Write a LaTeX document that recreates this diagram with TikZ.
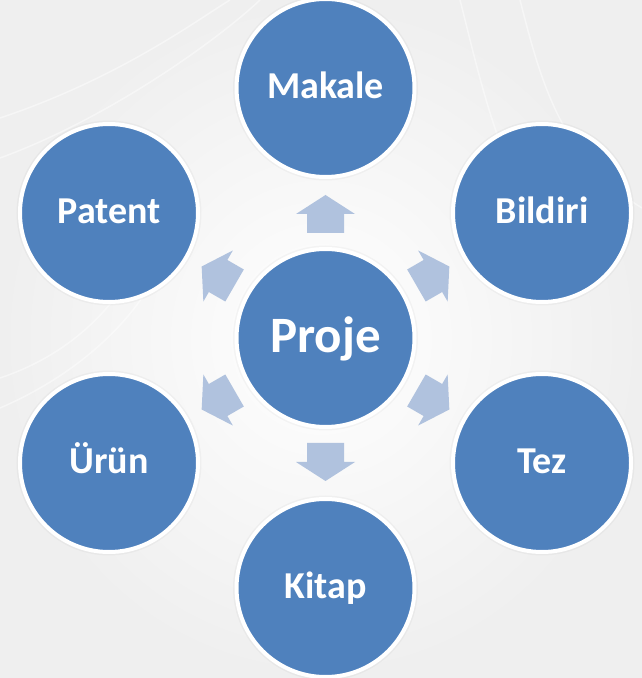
\documentclass[tikz,border=0pt]{standalone}
\usepackage{fontspec}
\setmainfont{Carlito}
\usetikzlibrary{calc}
\definecolor{circblue}{RGB}{79,129,189}
\definecolor{arrblue}{RGB}{176,194,222}
\definecolor{bgedge}{RGB}{239,239,239}
\begin{document}
\begin{tikzpicture}[x=1pt,y=1pt,
  bubble/.style={circle, minimum size=178pt, inner sep=0pt, fill=circblue,
    draw=white, line width=4pt, text=white,
    font=\bfseries\fontsize{38}{38}\selectfont, text height=21pt, text depth=0pt},
  hub/.style={bubble, font=\bfseries\fontsize{51}{51}\selectfont, text height=29.4pt},
  blockarrow/.style={fill=arrblue, draw=none},
  halo/.style={fill=black, opacity=0.03}]
\useasboundingbox (0,0) rectangle (642,678);
\shade[inner color=white, outer color=bgedge] (0,0) rectangle (642,678);
% faint white swooshes
\begin{scope}[white, line width=1.5pt, opacity=0.45]
  \draw (0,560) .. controls (120,600) and (200,660) .. (230,678);
  \draw (0,520) .. controls (110,560) and (220,640) .. (260,678);
  \draw (460,678) .. controls (480,600) and (500,500) .. (560,420);
  \draw (520,678) .. controls (540,600) and (560,520) .. (642,470);
  \draw (0,300) .. controls (60,320) and (110,360) .. (140,420);
  \draw (0,270) .. controls (70,300) and (130,350) .. (160,410);
\end{scope}
\coordinate (C) at (325.5,340);
\fill[halo] (C) circle (92.5);
\foreach \a in {90,30,-30,-90,210,150} {
  \fill[halo] ($(C)+(\a:250)$) circle (92.5);
}
\node[hub] (P) at (C) {Proje};
\foreach \n/\a/\t in {M/90/Makale, B/30/Bildiri, T/-30/Tez, K/-90/Kitap, U/210/Ürün, A/150/Patent} {
  \node[bubble] (\n) at ($(P)+(\a:250)$) {\t};
  \begin{scope}[shift={(P.center)}, rotate=\a]
    \fill[blockarrow] (105,-18.5) -- (124,-18.5) -- (124,-29.5) -- (143,0)
      -- (124,29.5) -- (124,18.5) -- (105,18.5) -- cycle;
  \end{scope}
}
\end{tikzpicture}
\end{document}
